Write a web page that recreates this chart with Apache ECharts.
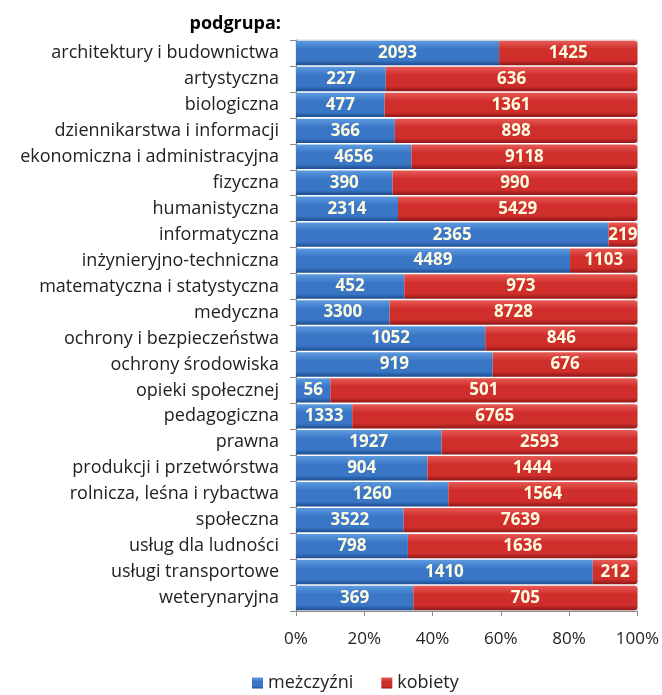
<!DOCTYPE html>
<html><head><meta charset="utf-8">
<script src="https://cdn.jsdelivr.net/npm/echarts@6/dist/echarts.min.js"></script>
<style>html,body{margin:0;padding:0;background:#fff}#c{width:662px;height:695px}</style>
</head><body><div id="c"></div>
<script>
const categories = ['architektury i budownictwa','artystyczna','biologiczna','dziennikarstwa i informacji','ekonomiczna i administracyjna','fizyczna','humanistyczna','informatyczna','inżynieryjno-techniczna','matematyczna i statystyczna','medyczna','ochrony i bezpieczeństwa','ochrony środowiska','opieki społecznej','pedagogiczna','prawna','produkcji i przetwórstwa','rolnicza, leśna i rybactwa','społeczna','usług dla ludności','usługi transportowe','weterynaryjna'];
const men = [2093,227,477,366,4656,390,2314,2365,4489,452,3300,1052,919,56,1333,1927,904,1260,3522,798,1410,369];
const women = [1425,636,1361,898,9118,990,5429,219,1103,973,8728,846,676,501,6765,2593,1444,1564,7639,1636,212,705];
const xTicks = ['0%','20%','40%','60%','80%','100%'];

const totals = men.map((m,i)=>m+women[i]);
const menPct = men.map((m,i)=>({value:m/totals[i]*100, raw:m}));
const womenPct = women.map((w,i)=>({value:w/totals[i]*100, raw:w}));
const FONT = "'Open Sans', 'Liberation Sans', sans-serif";

function grad(top, mid, bot){
  return new echarts.graphic.LinearGradient(0,0,0,1,[
    {offset:0,color:top},{offset:0.35,color:mid},{offset:0.8,color:mid},{offset:1,color:bot}]);
}
const lbl = {show:true, position:'inside', color:'#fdfbe0', fontWeight:'bold', fontSize:17, fontFamily:FONT,
  formatter:p=>p.data.raw};

const chart = echarts.init(document.getElementById('c'));
chart.setOption({
  animation:false,
  title:{text:'podgrupa:', left:276, top:10, textAlign:'right',
    textStyle:{fontSize:18, fontWeight:'bold', color:'#000', fontFamily:FONT}},
  legend:{top:674, left:252, padding:0, itemWidth:11, itemHeight:11, itemGap:28,
    textStyle:{fontSize:18, color:'#222', fontFamily:FONT},
    data:[{name:'meżczyźni', icon:'rect'},{name:'kobiety', icon:'rect'}]},
  grid:{left:296, right:23, top:40, bottom:84, show:true, borderColor:'#d8d8d8', borderWidth:1},
  xAxis:{type:'value', min:0, max:100, interval:20,
    axisLine:{show:true, lineStyle:{color:'#888'}},
    axisTick:{show:true, length:5, lineStyle:{color:'#888'}},
    splitLine:{show:false},
    axisLabel:{formatter:(v)=>xTicks[Math.round(v/20)], fontSize:17, color:'#222', margin:20, fontFamily:FONT}},
  yAxis:{type:'category', data:categories, inverse:true,
    axisLine:{show:true, lineStyle:{color:'#888'}},
    axisTick:{show:true, length:6, inside:false, lineStyle:{color:'#888'}},
    axisLabel:{fontSize:18, color:'#222', margin:17, fontFamily:FONT}},
  series:[
    {name:'meżczyźni', type:'bar', stack:'a', barCategoryGap:'6%', data:menPct, label:lbl,
      itemStyle:{color:grad('#5d9be0','#3a76c6','#1d4c8f')}},
    {name:'kobiety', type:'bar', stack:'a', barCategoryGap:'6%', data:womenPct, label:lbl,
      itemStyle:{color:grad('#e85a56','#cf2e2b','#8c1716'), borderRadius:[0,3,3,0]}}
  ]
});
</script></body></html>
